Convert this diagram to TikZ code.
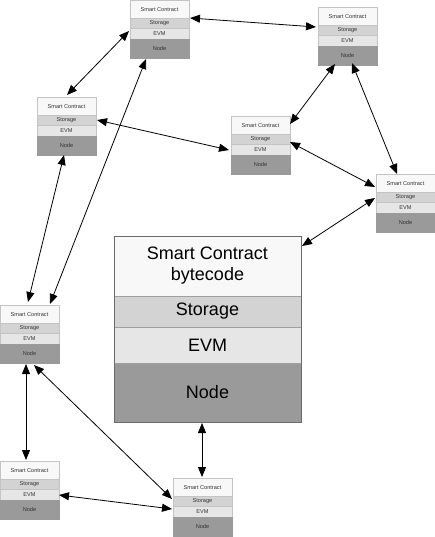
\documentclass[tikz,border=0pt]{standalone}
\usepackage{fontspec}
\setmainfont{Liberation Sans}
\usetikzlibrary{arrows.meta,calc,fit}
\definecolor{cSC}{HTML}{F8F8F8}
\definecolor{cST}{HTML}{D3D3D3}
\definecolor{cEV}{HTML}{E6E6E6}
\definecolor{cND}{HTML}{9A9A9A}
\definecolor{cLine}{HTML}{C4C4C4}
\definecolor{cBigLine}{HTML}{A0A0A0}
\definecolor{cOut}{HTML}{6A6A6A}
\definecolor{cTxt}{HTML}{333333}
\tikzset{
  sec/.style={rectangle, draw=cLine, line width=0.5pt, inner sep=0pt, outer sep=0pt,
    minimum width=59pt, text=cTxt, font=\fontsize{5.6}{6.5}\selectfont, align=center},
  bigsec/.style={sec, draw=cBigLine, minimum width=187pt, text=black, font=\fontsize{18}{21}\selectfont},
  conn/.style={{Triangle[length=10pt,width=8pt]}-{Triangle[length=10pt,width=8pt]}, line width=0.8pt, black},
}
\newcommand{\smallstack}[3]{%
  \node[sec,fill=cSC,minimum height=18.5pt,anchor=north west] (#1-sc) at (#2,#3) {Smart Contract};
  \node[sec,fill=cST,minimum height=10pt,anchor=north] (#1-st) at (#1-sc.south) {Storage};
  \node[sec,fill=cEV,minimum height=11pt,anchor=north] (#1-ev) at (#1-st.south) {EVM};
  \node[sec,fill=cND,draw=cND,minimum height=18.5pt,anchor=north] (#1-nd) at (#1-ev.south) {Node};
  \node[fit=(#1-sc)(#1-nd),inner sep=0pt,outer sep=0pt] (#1) {};
}
\begin{document}
\begin{tikzpicture}[x=1pt,y=-1pt]
\useasboundingbox[fill=white] (0,0) rectangle (435,537);
% big stack
\node[bigsec,fill=cSC,minimum height=60pt,anchor=north west] (big-sc) at (114,236) {Smart Contract\\bytecode};
\node[bigsec,fill=cST,minimum height=31pt,anchor=north] (big-st) at (big-sc.south) {Storage};
\node[bigsec,fill=cEV,minimum height=36pt,anchor=north] (big-ev) at (big-st.south) {EVM};
\node[bigsec,fill=cND,minimum height=59pt,anchor=north] (big-nd) at (big-ev.south) {Node};
\node[fit=(big-sc)(big-nd),inner sep=0pt,outer sep=0pt,draw=cOut,line width=0.8pt] (big) {};
% small stacks
\smallstack{s1}{130}{0}
\smallstack{s2}{318}{7}
\smallstack{s3}{37}{97}
\smallstack{s4}{231}{116}
\smallstack{s5}{376}{174}
\smallstack{s6}{0}{305}
\smallstack{s7}{0}{461}
\smallstack{s8}{173}{478}
% connectors
\draw[conn] ($(s1.north west)+(60,18)$) -- ($(s2.north west)+(-2,20)$);
\draw[conn] ($(s1.north west)+(-1,31)$) -- ($(s3.north west)+(30,-2)$);
\draw[conn] ($(s1.north west)+(16,59)$) -- ($(s6.north west)+(50,-1)$);
\draw[conn] ($(s3.north west)+(27,58)$) -- ($(s6.north west)+(28,-3)$);
\draw[conn] ($(s3.north west)+(60,23)$) -- ($(s4.north west)+(-2,34)$);
\draw[conn] ($(s2.north west)+(17,57)$) -- ($(s4.north west)+(59,8)$);
\draw[conn] ($(s2.north west)+(34,56)$) -- ($(s5.north west)+(21,0)$);
\draw[conn] ($(s4.north west)+(59,26)$) -- ($(s5.north west)+(-1,13)$);
\draw[conn] ($(s5.north west)+(-1,24)$) -- ($(big.north east)+(1,10)$);
\draw[conn] ($(big.south west)+(88,1)$) -- ($(s8.north west)+(29,-1)$);
\draw[conn] ($(s6.north west)+(26,59)$) -- ($(s7.north west)+(26,-1)$);
\draw[conn] ($(s6.north west)+(34,60)$) -- ($(s8.north west)+(-1,21)$);
\draw[conn] ($(s7.north west)+(59,34)$) -- ($(s8.north west)+(-1,31)$);
\end{tikzpicture}
\end{document}
